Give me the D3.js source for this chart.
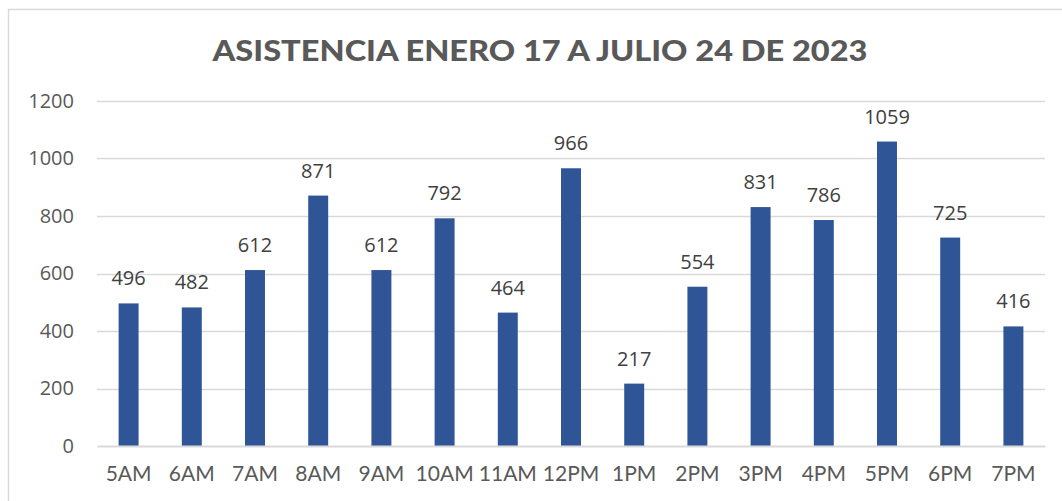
<!DOCTYPE html>
<html>
<head>
<meta charset="utf-8">
<script src="https://cdn.jsdelivr.net/npm/d3@7"></script>
<style>
  body { margin: 0; background: #fff; }
  svg { display: block; }
</style>
</head>
<body>
<div id="chart"></div>
<script>
// data
const hours = ["5AM", "6AM", "7AM", "8AM", "9AM", "10AM", "11AM", "12PM", "1PM", "2PM", "3PM", "4PM", "5PM", "6PM", "7PM"];
const attendance = [496, 482, 612, 871, 612, 792, 464, 966, 217, 554, 831, 786, 1059, 725, 416];
const yTicks = [0, 200, 400, 600, 800, 1000, 1200];
const chartTitle = "ASISTENCIA ENERO 17 A JULIO 24 DE 2023";

const W = 1062, H = 501;
const margin = { top: 101, right: 17, bottom: 55, left: 97 };
const width = W - margin.left - margin.right,
  height = H - margin.top - margin.bottom;

const svg = d3.select("#chart").append("svg")
  .attr("width", W)
  .attr("height", H);

// chart border
svg.append("rect")
  .attr("x", 8.5).attr("y", 9.5)
  .attr("width", W + 10).attr("height", H + 10)
  .style("fill", "none")
  .style("stroke", "#d9d9d9")
  .style("stroke-width", 1.5);

svg.append("text")
  .attr("x", 540)
  .attr("y", 61)
  .attr("text-anchor", "middle")
  .attr("textLength", 655)
  .attr("lengthAdjust", "spacingAndGlyphs")
  .style("font-family", "Lato, 'Open Sans', sans-serif")
  .style("font-weight", "900")
  .style("font-size", "28px")
  .style("fill", "#595959")
  .text(chartTitle);

const g = svg.append("g")
  .attr("transform", "translate(" + margin.left + "," + margin.top + ")");

const x = d3.scaleBand().domain(hours).range([0, width]).paddingInner(0.684).paddingOuter(0.342);
const y = d3.scaleLinear().domain([0, 1200]).range([height, 0]);

// gridlines
g.append("g")
  .selectAll("line")
  .data(yTicks.filter(d => d > 0))
  .enter().append("line")
  .attr("x1", 0).attr("x2", width)
  .attr("y1", d => Math.round(y(d)) + 0.5)
  .attr("y2", d => Math.round(y(d)) + 0.5)
  .style("stroke", "#d9d9d9")
  .style("stroke-width", 1.5);

// y axis labels
const yAxis = g.append("g")
  .call(d3.axisLeft(y).tickValues(yTicks).tickFormat(d3.format("d")).tickSize(0).tickPadding(23));
yAxis.select(".domain").remove();
yAxis.selectAll("text")
  .style("font-family", "'Open Sans', 'Noto Sans', sans-serif")
  .style("font-size", "20px")
  .style("fill", "#595959");

// bars
g.selectAll(".bar")
  .data(attendance)
  .enter().append("rect")
  .attr("class", "bar")
  .attr("x", (d, i) => x(hours[i]))
  .attr("width", x.bandwidth())
  .attr("y", d => y(d))
  .attr("height", d => height - y(d))
  .style("fill", "#2f5597");

// value labels
g.selectAll(".val")
  .data(attendance)
  .enter().append("text")
  .attr("class", "val")
  .attr("x", (d, i) => x(hours[i]) + x.bandwidth() / 2)
  .attr("y", d => y(d) - 18)
  .attr("text-anchor", "middle")
  .style("font-family", "'Open Sans', 'Noto Sans', sans-serif")
  .style("font-size", "20px")
  .style("fill", "#404040")
  .text(d => d);

// x axis
const xAxis = g.append("g")
  .attr("transform", "translate(0," + height + ")")
  .call(d3.axisBottom(x).tickSize(0).tickPadding(20));
xAxis.select(".domain")
  .style("stroke", "#d9d9d9")
  .style("stroke-width", 2);
xAxis.selectAll("text")
  .style("font-family", "Lato, 'Open Sans', sans-serif")
  .style("font-size", "21px")
  .style("fill", "#595959");
</script>
</body>
</html>
